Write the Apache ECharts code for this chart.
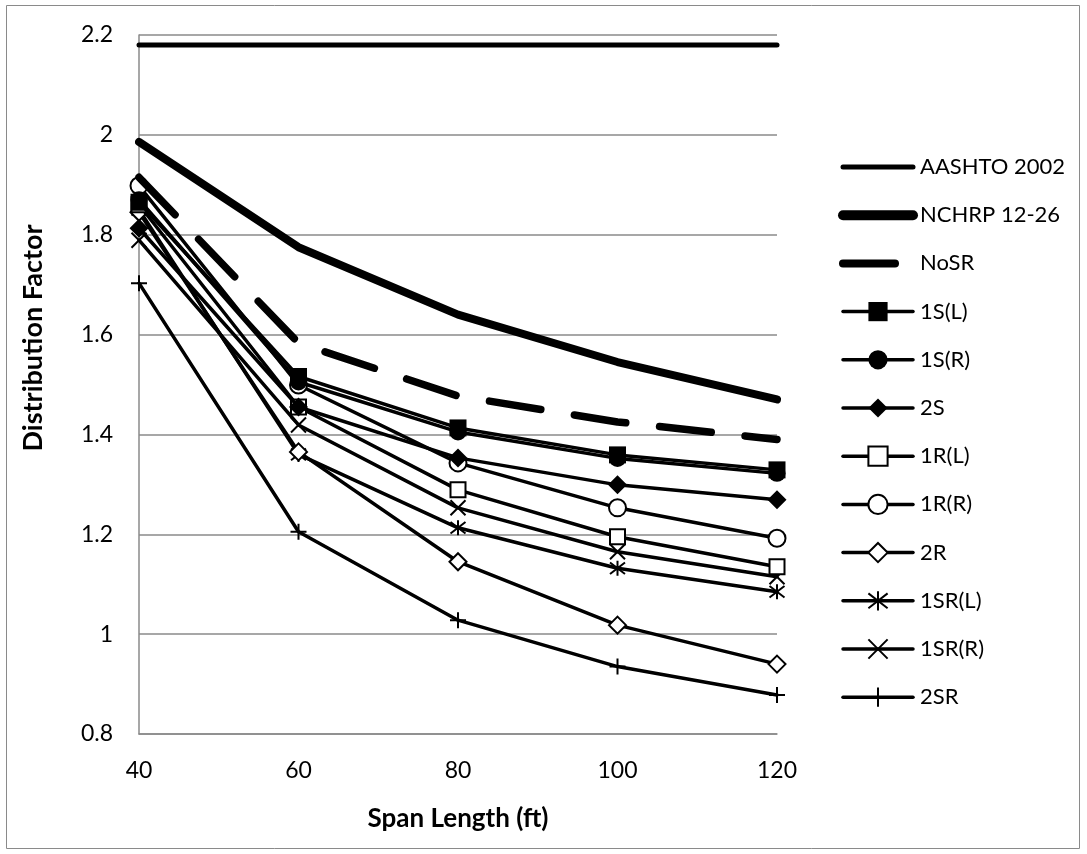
<!DOCTYPE html>
<html>
<head>
<meta charset="utf-8">
<script src="https://cdn.jsdelivr.net/npm/echarts@6.0.0/dist/echarts.min.js"></script>
<style>
  html, body { margin: 0; padding: 0; background: #fff; }
  #chart { width: 1087px; height: 854px; }
</style>
</head>
<body>
<div id="chart"></div>
<script>
// ---- data ----
const spans = [40, 60, 80, 100, 120];
const yTicks = [0.8, 1, 1.2, 1.4, 1.6, 1.8, 2, 2.2];
const xTitle = 'Span Length (ft)';
const yTitle = 'Distribution Factor';
const seriesNames = ['AASHTO 2002', 'NCHRP 12-26', 'NoSR', '1S(L)', '1S(R)', '2S', '1R(L)', '1R(R)', '2R', '1SR(L)', '1SR(R)', '2SR'];
const aashto = [2.18, 2.18, 2.18, 2.18, 2.18];
const nchrp  = [1.986, 1.775, 1.64, 1.545, 1.47];
const noSR   = [1.915, 1.583, 1.477, 1.425, 1.39];
const s1L    = [1.865, 1.516, 1.413, 1.359, 1.329];
const s1R    = [1.87, 1.505, 1.405, 1.352, 1.322];
const s2     = [1.813, 1.455, 1.353, 1.299, 1.269];
const r1L    = [1.86, 1.455, 1.289, 1.195, 1.135];
const r1R    = [1.898, 1.499, 1.343, 1.253, 1.192];
const r2     = [1.845, 1.365, 1.145, 1.018, 0.94];
const sr1L   = [1.85, 1.36, 1.213, 1.132, 1.085];
const sr1R   = [1.789, 1.419, 1.253, 1.165, 1.115];
const sr2    = [1.703, 1.205, 1.028, 0.935, 0.878];
const allValues = [aashto, nchrp, noSR, s1L, s1R, s2, r1L, r1R, r2, sr1L, sr1R, sr2];

// ---- styles ----
const FONT = 'Lato';
const X_PATH = 'path://M0,0L10,10M10,0L0,10';
const AST_PATH = 'path://M0,0L10,10M10,0L0,10M5,-1.5L5,11.5';
const PLUS_PATH = 'path://M5,0L5,10M0,5L10,5';

const styles = [
  { symbol: 'none', width: 5, legendWidth: 5 },
  { symbol: 'none', width: 8, legendWidth: 10 },
  { symbol: 'none', width: 7.5, legendWidth: 8, dash: [52, 34] },
  { symbol: 'rect', size: 17, fill: '#000', width: 3.5 },
  { symbol: 'circle', size: 17, fill: '#000', width: 3.5 },
  { symbol: 'diamond', size: 19, fill: '#000', width: 3.5 },
  { symbol: 'rect', size: 15, fill: '#fff', border: 2, width: 3.5 },
  { symbol: 'circle', size: 17, fill: '#fff', border: 2, width: 3.5 },
  { symbol: 'diamond', size: 17, fill: '#fff', border: 2, width: 3.5 },
  { symbol: AST_PATH, size: 15, fill: '#000', border: 2, width: 3.5 },
  { symbol: X_PATH, size: 15, fill: '#000', border: 2, width: 3.5 },
  { symbol: PLUS_PATH, size: 16, fill: '#000', border: 2, width: 3.5 }
];

const series = seriesNames.map((name, i) => {
  const st = styles[i];
  const s = {
    name: name,
    type: 'line',
    data: spans.map((x, j) => [x, allValues[i][j]]),
    z: 30 - i,
    symbol: st.symbol,
    symbolSize: st.size || 0,
    showSymbol: st.symbol !== 'none',
    lineStyle: { color: '#000', width: st.width, cap: 'round', join: 'round' },
    itemStyle: { color: st.fill || '#000', borderColor: '#000', borderWidth: st.border || 0 },
    emphasis: { disabled: true },
    animation: false
  };
  if (st.dash) s.lineStyle.type = st.dash;
  return s;
});

const legendData = seriesNames.map((name, i) => {
  const st = styles[i];
  const d = { name: name, lineStyle: { width: st.legendWidth || 3.5 } };
  if (st.symbol === 'none') {
    d.itemStyle = { opacity: 0, color: 'rgba(0,0,0,0)', borderWidth: 0 };
  }
  return d;
});

const chart = echarts.init(document.getElementById('chart'), null, { renderer: 'canvas' });
chart.setOption({
  backgroundColor: '#fff',
  animation: false,
  textStyle: { fontFamily: FONT },
  graphic: [{
    type: 'rect', silent: true,
    shape: { x: 6.5, y: 5.5, width: 1073, height: 843 },
    style: { fill: null, stroke: '#8a8a8a', lineWidth: 1 }
  }, {
    type: 'text', silent: true,
    x: 33, y: 338,
    rotation: Math.PI / 2,
    style: {
      text: yTitle,
      font: 'bold 27px Lato',
      fill: '#000',
      align: 'center', verticalAlign: 'middle',
      textAlign: 'center', textVerticalAlign: 'middle'
    }
  }],
  grid: { left: 139, right: 310, top: 35, bottom: 120, containLabel: false },
  legend: {
    orient: 'vertical',
    left: 838,
    top: 155,
    padding: 0,
    itemWidth: 70,
    itemHeight: 24,
    itemGap: 24.2,
    data: legendData,
    textStyle: { fontFamily: FONT, fontSize: 22, color: '#000', lineHeight: 24, padding: [0, 0, 0, 2] },
    selectedMode: false
  },
  xAxis: {
    type: 'value',
    min: 40, max: 120, interval: 20,
    name: xTitle,
    nameLocation: 'middle',
    nameGap: 72,
    nameTextStyle: { fontFamily: FONT, fontSize: 26, fontWeight: 'bold', color: '#000' },
    axisLine: { show: true, lineStyle: { color: '#8a8a8a', width: 1.5 } },
    axisTick: { show: false },
    splitLine: { show: false },
    axisLabel: { fontFamily: FONT, fontSize: 23, color: '#000', margin: 25 }
  },
  yAxis: {
    type: 'value',
    min: yTicks[0], max: yTicks[yTicks.length - 1], interval: 0.2,
    axisLine: { show: true, lineStyle: { color: '#8a8a8a', width: 1.5 } },
    axisTick: { show: false },
    splitLine: { show: true, lineStyle: { color: '#8a8a8a', width: 1.5 } },
    axisLabel: {
      fontFamily: FONT, fontSize: 23, color: '#000', margin: 26,
      formatter: v => String(+v.toFixed(1))
    }
  },
  series: series
});
</script>
</body>
</html>
